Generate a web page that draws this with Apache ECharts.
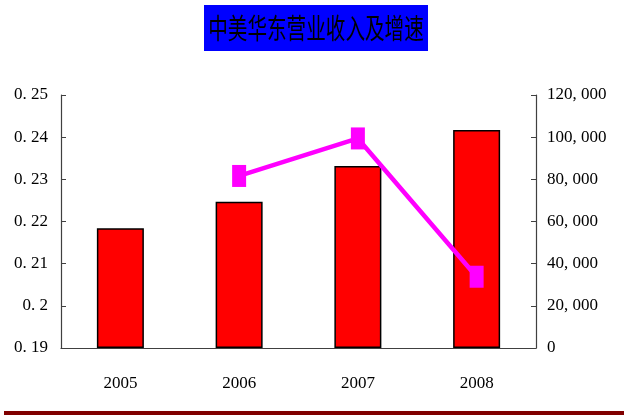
<!DOCTYPE html>
<html>
<head>
<meta charset="utf-8">
<script src="https://cdn.jsdelivr.net/npm/echarts@6/dist/echarts.min.js"></script>
<style>html,body{margin:0;padding:0;background:#fff}#c{width:624px;height:416px}</style>
</head>
<body>
<div id="c"></div>
<script>
const categories = ['2005', '2006', '2007', '2008'];
const revenue = [56800, 69400, 86300, 103400];
const growth = [null, 0.2308, 0.2397, 0.2069];
const leftTickLabels = ['0. 19', '0. 2', '0. 21', '0. 22', '0. 23', '0. 24', '0. 25'];
const rightTickLabels = ['0', '20, 000', '40, 000', '60, 000', '80, 000', '100, 000', '120, 000'];
const titleText = '中美华东营业收入及增速';

const font = "'Liberation Serif', 'DejaVu Serif', serif";
const chart = echarts.init(document.getElementById('c'), null, {renderer: 'canvas'});
chart.setOption({
  animation: false,
  backgroundColor: '#fff',
  grid: {left: 61, right: 88, top: 95, bottom: 68},
  graphic: [
    {type: 'rect', shape: {x: 204, y: 5, width: 224, height: 46}, style: {fill: '#0000ff'}},
    {type: 'text', x: 316, y: 28, scaleX: 0.7, style: {x: 0, y: 0, text: titleText, fill: '#000', font: "28px 'Noto Sans CJK SC'", textAlign: 'center', textVerticalAlign: 'middle'}},
    {type: 'rect', shape: {x: 4, y: 411, width: 620, height: 4}, style: {fill: '#800000'}}
  ],
  xAxis: {
    type: 'category', data: categories,
    axisLine: {lineStyle: {color: '#404040', width: 1.2}},
    axisTick: {inside: true, length: 8, lineStyle: {color: '#404040'}},
    axisLabel: {margin: 27, color: '#000', fontSize: 17, fontFamily: font}
  },
  yAxis: [
    {
      type: 'value', min: 0.19, max: 0.25, interval: 0.01, position: 'left',
      axisLine: {show: true, lineStyle: {color: '#404040', width: 1.2}},
      axisTick: {show: true, inside: true, length: 5, lineStyle: {color: '#404040'}},
      splitLine: {show: false},
      axisLabel: {margin: 13, color: '#000', fontSize: 17, fontFamily: font,
        formatter: v => leftTickLabels[Math.round((v - 0.19) / 0.01)]}
    },
    {
      type: 'value', min: 0, max: 120000, interval: 20000, position: 'right',
      axisLine: {show: true, lineStyle: {color: '#404040', width: 1.2}},
      axisTick: {show: true, inside: true, length: 5, lineStyle: {color: '#404040'}},
      splitLine: {show: false},
      axisLabel: {margin: 11, color: '#000', fontSize: 17, fontFamily: font,
        formatter: v => rightTickLabels[Math.round(v / 20000)]}
    }
  ],
  series: [
    {
      type: 'bar', yAxisIndex: 1, data: revenue, barWidth: 47,
      itemStyle: {color: '#ff0000', borderColor: '#000', borderWidth: 1.5}, z: 2
    },
    {
      type: 'line', yAxisIndex: 0, data: growth, symbol: 'rect', symbolSize: [14, 22],
      lineStyle: {color: '#ff00ff', width: 4.5}, itemStyle: {color: '#ff00ff'}, z: 3
    }
  ]
});
</script>
</body>
</html>
